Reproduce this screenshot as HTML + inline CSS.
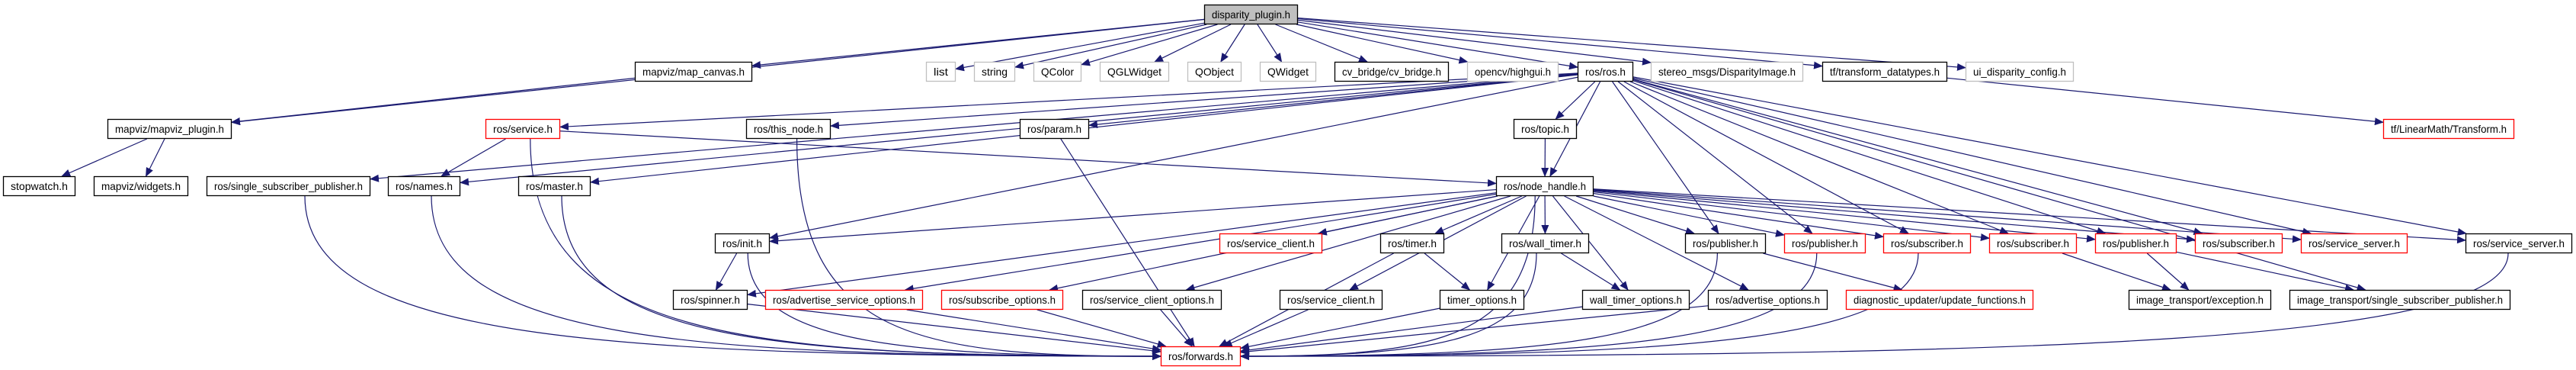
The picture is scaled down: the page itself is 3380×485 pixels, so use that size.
<!DOCTYPE html>
<html><head><meta charset="utf-8"><style>
html,body{margin:0;padding:0;background:#fff;width:3380px;height:485px;overflow:hidden}
svg text{font-family:"Liberation Sans",sans-serif;font-size:14px;fill:#000}
</style></head><body>
<svg id="g" xmlns="http://www.w3.org/2000/svg" width="3380" height="485" viewBox="0 0 3380 485">
<defs><marker id="a" markerUnits="userSpaceOnUse" markerWidth="12" markerHeight="10" refX="11" refY="5" orient="auto"><path d="M0,0 L12,5 L0,10 z" fill="#191970"/></marker></defs>
<g id="e" fill="none" stroke="#191970" stroke-width="1.2"></g>
<g id="n"></g>
</svg>
<script>
var R=[6,81,156,231,306,380,454];
var N={
dp:[1580,1703,0,'disparity_plugin.h','f'],
mc:[833,987,1,'mapviz/map_canvas.h','k'],
li:[1215,1254,1,'list','g'],st:[1278,1332,1,'string','g'],qc:[1356,1419,1,'QColor','g'],
qg:[1443,1534,1,'QGLWidget','g'],qo:[1558,1629,1,'QObject','g'],qw:[1653,1727,1,'QWidget','g'],
cv:[1751,1901,1,'cv_bridge/cv_bridge.h','k'],hg:[1925,2045,1,'opencv/highgui.h','g'],
rr:[2070,2143,1,'ros/ros.h','k'],di:[2166,2366,1,'stereo_msgs/DisparityImage.h','g'],
td:[2391,2555,1,'tf/transform_datatypes.h','k'],ui:[2579,2721,1,'ui_disparity_config.h','g'],
mp:[141,304,2,'mapviz/mapviz_plugin.h','k'],sv:[637,735,2,'ros/service.h','r'],
tn:[979,1090,2,'ros/this_node.h','k'],pa:[1338,1429,2,'ros/param.h','k'],
tp:[1986,2069,2,'ros/topic.h','k'],lm:[3127,3299,2,'tf/LinearMath/Transform.h','r'],
sw:[4,99,3,'stopwatch.h','k'],wd:[123,247,3,'mapviz/widgets.h','k'],
ss:[271,486,3,'ros/single_subscriber_publisher.h','k'],nm:[509,604,3,'ros/names.h','k'],
ma:[680,775,3,'ros/master.h','k'],nh:[1963,2091,3,'ros/node_handle.h','k'],
in:[938,1010,4,'ros/init.h','k'],sc:[1600,1735,4,'ros/service_client.h','r'],
ti:[1811,1895,4,'ros/timer.h','k'],wt:[1970,2085,4,'ros/wall_timer.h','k'],
p1:[2211,2317,4,'ros/publisher.h','k'],p2:[2341,2448,4,'ros/publisher.h','r'],
s1:[2471,2586,4,'ros/subscriber.h','r'],s2:[2610,2725,4,'ros/subscriber.h','r'],
p3:[2749,2856,4,'ros/publisher.h','r'],s3:[2880,2995,4,'ros/subscriber.h','r'],
v1:[3019,3159,4,'ros/service_server.h','r'],v2:[3235,3375,4,'ros/service_server.h','k'],
sp:[883,981,5,'ros/spinner.h','k'],aso:[1004,1211,5,'ros/advertise_service_options.h','r'],
so:[1235,1395,5,'ros/subscribe_options.h','r'],sco:[1420,1603,5,'ros/service_client_options.h','k'],
sc2:[1679,1814,5,'ros/service_client.h','k'],to:[1889,2000,5,'timer_options.h','k'],
wo:[2076,2217,5,'wall_timer_options.h','k'],ao:[2241,2398,5,'ros/advertise_options.h','k'],
uf:[2422,2668,5,'diagnostic_updater/update_functions.h','r'],
ie:[2793,2980,5,'image_transport/exception.h','k'],
is:[3004,3294,5,'image_transport/single_subscriber_publisher.h','k'],
fw:[1523,1628,6,'ros/forwards.h','r']
};
var E=[];
function add(s,t){t.split(' ').forEach(function(x){E.push([s,x]);});}
add('dp','mp mc li st qc qg qo qw cv hg rr di td ui');
add('mc','mp');add('mp','sw wd');add('td','lm');
add('rr','sv ss nm tn pa ma tp nh in p1 p2 s1 s2 p3 s3 v1 v2 is');
add('sv','nm fw nh');add('nm','fw');add('ma','fw');add('ss','fw');add('tn','fw');add('pa','fw');
add('in','sp fw');add('tp','nh');
add('nh','in sp aso so sco sc sc2 ti to wt wo ao p1 p2 s1 s2 p3 s3 v1 v2 fw');
add('ti','to fw');add('wt','wo fw');add('p1','uf fw');add('p2','fw');add('s1','fw');
add('s2','ie');add('p3','ie is');add('v2','fw');
add('sp','fw');add('aso','fw');add('so','fw');add('sco','fw');add('sc2','fw');add('to','fw');add('wo','fw');add('ao','fw');
function box(k){var n=N[k];return {x1:n[0],x2:n[1],y1:R[n[2]],y2:R[n[2]]+26,cx:(n[0]+n[1])/2,cy:R[n[2]]+13};}
function clip(b,dx,dy){var hw=(b.x2-b.x1)/2,hh=13,t=Infinity;
 if(dx)t=Math.min(t,hw/Math.abs(dx));if(dy)t=Math.min(t,hh/Math.abs(dy));return [b.cx+dx*t,b.cy+dy*t];}
var eg=document.getElementById('e'),ng=document.getElementById('n'),h='';
E.forEach(function(e){var a=box(e[0]),b=box(e[1]);var dx=b.cx-a.cx,dy=b.cy-a.cy;
 var p=clip(a,dx,dy),q=clip(b,-dx,-dy);
 if(e[1]=='fw' && dy>100 && Math.abs(dx)>300){
  var sx=a.cx+(dx>0?0.2:-0.2)*(a.x2-a.x1)/2, sy=a.y2;
  var tx=dx>0?b.x1:b.x2, ty=b.cy;
  h+='<path marker-end="url(#a)" d="M'+sx+','+sy+' C'+sx+','+(ty-20)+' '+(sx+(tx-sx)*0.35)+','+ty+' '+tx+','+ty+'"/>';
 } else h+='<path marker-end="url(#a)" d="M'+p[0]+','+p[1]+' L'+q[0]+','+q[1]+'"/>';});
eg.innerHTML=h;
var s='';
for(var k in N){var n=N[k],b=box(k);var col=n[4]=='r'?'#ff0000':n[4]=='g'?'#bfbfbf':'#000';
 var fill=n[4]=='f'?'#bfbfbf':'#fff';
 s+='<rect x="'+(b.x1+0.5)+'" y="'+(b.y1+0.5)+'" width="'+(b.x2-b.x1-1)+'" height="25" fill="'+fill+'" stroke="'+col+'" stroke-width="1.3"/>';
 var w=b.x2-b.x1-20;
 s+='<text x="'+b.cx+'" y="'+(b.y1+18)+'" text-anchor="middle" textLength="'+w+'" lengthAdjust="spacingAndGlyphs">'+n[3]+'</text>';}
ng.innerHTML=s;
</script>
</body></html>
